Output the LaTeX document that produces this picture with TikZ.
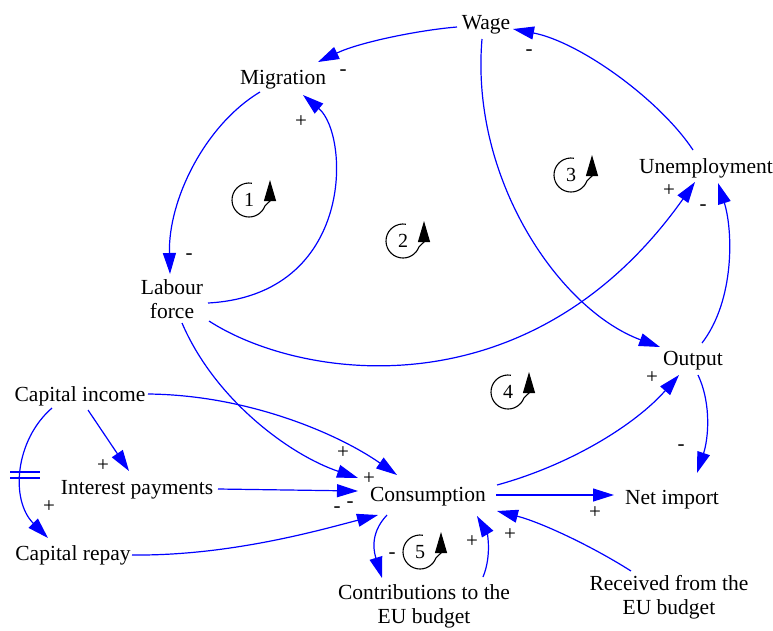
\documentclass[tikz,border=0pt]{standalone}
\usepackage{fontspec}
\setmainfont{Liberation Serif}
\usetikzlibrary{arrows.meta}
\newcommand{\dn}[1]{\raisebox{-3pt}[\height][\depth]{#1}}
\newcommand{\loopsym}[4]{%
  \node[loopnum] (#1) at (#2,#3) {#4};
  \draw[loopline] ([shift={(80:17pt)}]#1.center) arc[start angle=80, end angle=340, radius=17pt]
     -- ([shift={(21,1)}]#1.center) -- ([shift={(21,-20)}]#1.center);
}
\begin{document}
\begin{tikzpicture}[x=1pt,y=-1pt,
  var/.style={font=\fontsize{21.5}{24}\selectfont, inner sep=0pt, align=center},
  sgn/.style={font=\fontsize{21}{21}\selectfont, inner sep=0pt},
  link/.style={draw=blue, line width=1.2pt, -{Triangle[length=21pt,width=13pt]}},
  loopnum/.style={font=\fontsize{20}{20}\selectfont, inner sep=0pt},
  loopline/.style={draw=black, line width=1.1pt, -{Triangle[length=21pt,width=12pt]}},
  delay/.style={draw=blue, line width=1.2pt}]
\useasboundingbox (0,0) rectangle (773,630);
% variables
\node[var] (wage) at (486,22) {\dn{Wage}};
\node[var] (mig) at (283,77) {\dn{Migration}};
\node[var] (unemp) at (706,165) {\dn{Unemployment}};
\node[var] (labour) at (172,299) {Labour\\force};
\node[var] (output) at (693,358) {\dn{Output}};
\node[var] (capinc) at (80,393) {\dn{Capital income}};
\node[var] (interest) at (137,487) {\dn{Interest payments}};
\node[var] (cons) at (428,494) {\dn{Consumption}};
\node[var] (netimp) at (672,497) {\dn{Net import}};
\node[var] (caprepay) at (73,552) {\dn{Capital repay}};
\node[var] (contrib) at (424,606) {Contributions to the\\EU budget};
\node[var] (received) at (669,597) {Received from the\\EU budget};
% connectors
\draw[link] ([shift={(-29,5)}]wage.center) .. controls (420,30) and (360,42) .. ([shift={(35,-15)}]mig.center);
\draw[link] ([shift={(-23,15)}]mig.center) .. controls (205,125) and (168,200) .. ([shift={(-2,-25)}]labour.center);
\draw[link] ([shift={(36,4)}]labour.center) .. controls (355,295) and (350,135) .. ([shift={(20,18)}]mig.center);
\draw[link] ([shift={(37,22)}]labour.center) .. controls (300,380) and (530,415) .. ([shift={(-11,17)}]unemp.center);
\draw[link] ([shift={(10,24)}]labour.center) .. controls (215,400) and (290,455) .. ([shift={(-70,-16)}]cons.center);
\draw[link] ([shift={(-4,17)}]wage.center) .. controls (470,180) and (560,310) .. ([shift={(-33,-11)}]output.center);
\draw[link] ([shift={(-13,-15)}]unemp.center) .. controls (660,100) and (580,42) .. ([shift={(27,7)}]wage.center);
\draw[link] ([shift={(9,-15)}]output.center) .. controls (735,300) and (733,230) .. ([shift={(12,18)}]unemp.center);
\draw[link] ([shift={(5,17)}]output.center) .. controls (712,405) and (708,440) .. ([shift={(25,-24)}]netimp.center);
\draw[link] ([shift={(69,-9)}]cons.center) .. controls (570,465) and (635,425) .. ([shift={(-14,17)}]output.center);
\draw[link] ([shift={(68,1)}]cons.center) -- ([shift={(-58,-2)}]netimp.center);
\draw[link] ([shift={(68,1)}]capinc.center) .. controls (250,395) and (340,435) .. ([shift={(-31,-19)}]cons.center);
\draw[link] ([shift={(8,17)}]capinc.center) -- ([shift={(-8,-16)}]interest.center);
\draw[link] ([shift={(-28,15)}]capinc.center) .. controls (15,440) and (10,500) .. ([shift={(-25,-14)}]caprepay.center);
\draw[link] ([shift={(81,2)}]interest.center) -- ([shift={(-70,-3)}]cons.center);
\draw[link] ([shift={(59,3)}]caprepay.center) .. controls (230,556) and (320,530) .. ([shift={(-50,21)}]cons.center);
\draw[link] ([shift={(-41,21)}]cons.center) .. controls (368,535) and (375,555) .. ([shift={(-42,-28)}]contrib.center);
\draw[link] ([shift={(59,-29)}]contrib.center) .. controls (492,555) and (487,533) .. ([shift={(49,22)}]cons.center);
\draw[link] ([shift={(-38,-26)}]received.center) .. controls (590,545) and (540,522) .. ([shift={(69,17)}]cons.center);
% delay mark
\draw[delay] (10,472) -- (40,472) (10,478) -- (40,478);
% polarity signs
\node[sgn] (s1) at (343,73) {-};
\node[sgn] (s2) at (301,122) {+};
\node[sgn] (s3) at (529,53) {-};
\node[sgn] (s4) at (189,257) {-};
\node[sgn] (s5) at (669,191) {+};
\node[sgn] (s6) at (703,208) {-};
\node[sgn] (s7) at (652,378) {+};
\node[sgn] (s8) at (681,448) {-};
\node[sgn] (s9) at (595,513) {+};
\node[sgn] (s10) at (343,453) {+};
\node[sgn] (s11) at (369,479) {+};
\node[sgn] (s12) at (350,505) {-};
\node[sgn] (s13) at (337,510) {-};
\node[sgn] (s14) at (103,466) {+};
\node[sgn] (s15) at (49,507) {+};
\node[sgn] (s16) at (392,556) {-};
\node[sgn] (s17) at (472,542) {+};
\node[sgn] (s18) at (510,535) {+};
% loop markers
\loopsym{loop1}{249}{200}{1}
\loopsym{loop2}{403}{241}{2}
\loopsym{loop3}{571}{175}{3}
\loopsym{loop4}{508}{392}{4}
\loopsym{loop5}{420}{552}{5}
\end{tikzpicture}
\end{document}
